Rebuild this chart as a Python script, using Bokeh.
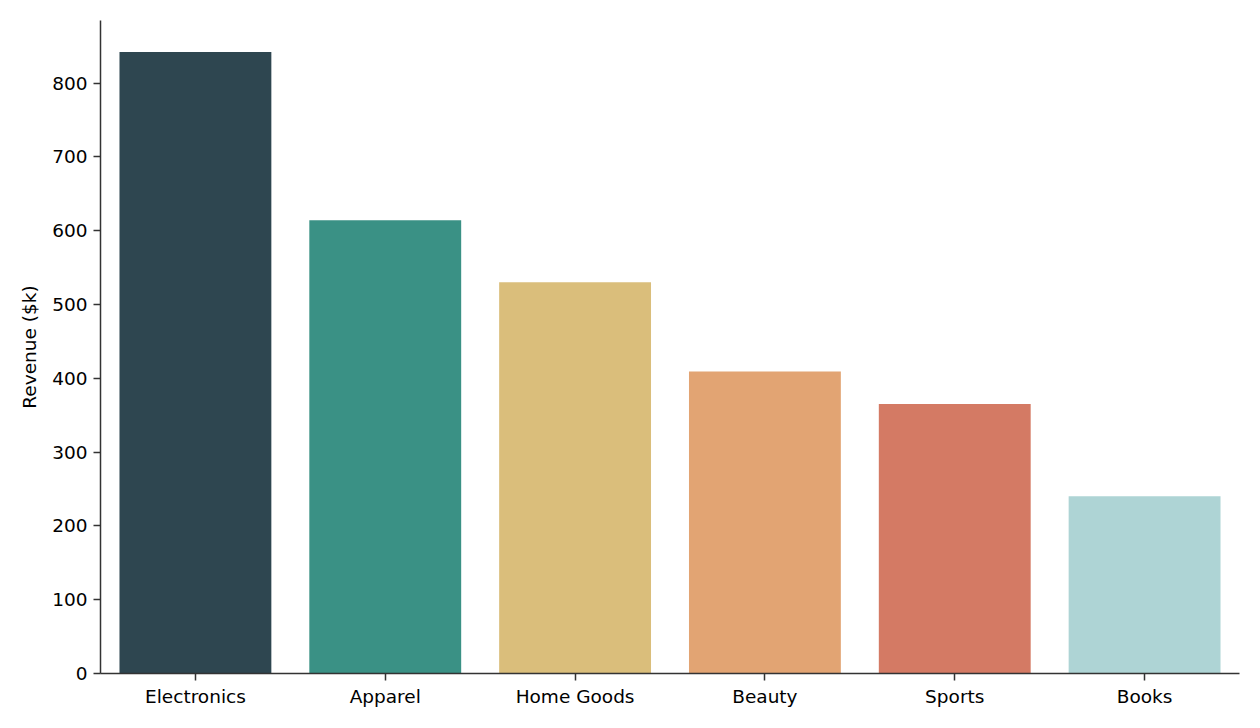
from bokeh.plotting import figure
from bokeh.models import Range1d, FactorRange, SingleIntervalTicker, ColumnDataSource
from bokeh.embed import file_html
from bokeh.resources import INLINE

categories = ["Electronics", "Apparel", "Home Goods", "Beauty", "Sports", "Books"]
revenue = [842, 614, 530, 409, 365, 240]
colors = ["#2e4650", "#3a9185", "#dabe7b", "#e2a473", "#d47a64", "#aed4d5"]

src = ColumnDataSource(dict(cat=categories, rev=revenue, color=colors))

p = figure(
    x_range=FactorRange(*categories, range_padding=0),
    y_range=Range1d(0, 884.7),
    width=1252, height=720,
    output_backend="svg", toolbar_location=None,
    min_border_left=100, min_border_right=13, min_border_top=20, min_border_bottom=47,
)
p.vbar(x="cat", top="rev", width=0.8, color="color", line_color=None, source=src)

p.outline_line_color = None
p.xgrid.grid_line_color = None
p.ygrid.grid_line_color = None
p.yaxis.ticker = SingleIntervalTicker(interval=100)
p.yaxis.axis_label = "Revenue ($k)"

for ax in (p.xaxis[0], p.yaxis[0]):
    ax.axis_line_color = "#333333"
    ax.axis_line_width = 1.5
    ax.major_tick_line_color = "#333333"
    ax.major_tick_line_width = 1.5
    ax.major_tick_out = 7
    ax.major_tick_in = 0
    ax.minor_tick_line_color = None
    ax.major_label_text_font = "DejaVu Sans"
    ax.major_label_text_font_size = "18.5px"
    ax.major_label_text_color = "#000000"
    ax.axis_label_text_font = "DejaVu Sans"
    ax.axis_label_text_font_size = "18.5px"
    ax.axis_label_text_font_style = "normal"
    ax.axis_label_text_color = "#000000"

p.yaxis.major_label_standoff = 6
p.yaxis.axis_label_standoff = 9
p.xaxis.major_label_standoff = 5

open("out.html", "w").write(file_html(p, INLINE))
